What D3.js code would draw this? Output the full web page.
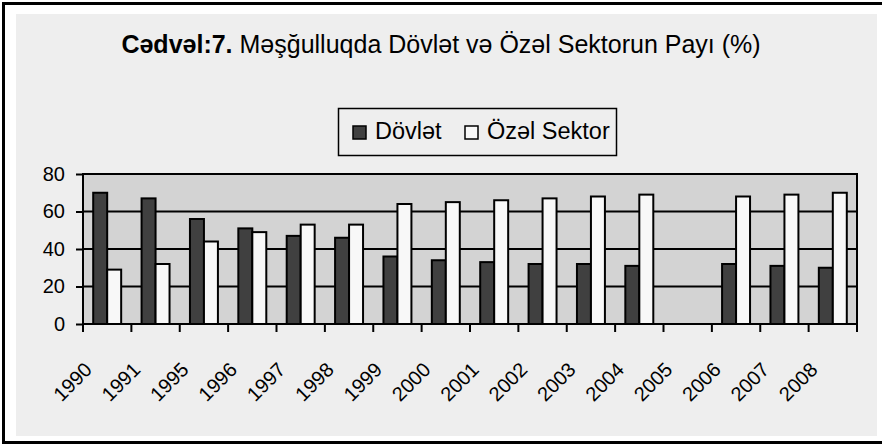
<!DOCTYPE html>
<html>
<head>
<meta charset="utf-8">
<script src="https://d3js.org/d3.v7.min.js"></script>
<style>
  body { margin: 0; background: #fff; }
  svg { display: block; font-family: "Liberation Sans", Arial, sans-serif; }
</style>
</head>
<body>
<div id="chart"></div>
<script>
// chart data
var years = ["1990", "1991", "1995", "1996", "1997", "1998", "1999", "2000",
             "2001", "2002", "2003", "2004", "2005", "2006", "2007", "2008"];
var dovlet = [70, 67, 56, 51, 47, 46, 36, 34, 33, 32, 32, 31, null, 32, 31, 30];
var ozel   = [29, 32, 44, 49, 53, 53, 64, 65, 66, 67, 68, 69, null, 68, 69, 70];
var seriesNames = ["Dövlət", "Özəl Sektor"];
var yTicks = [0, 20, 40, 60, 80];

var width = 882, height = 445;
var plot = { left: 83, right: 857, top: 174, bottom: 324 };
var colors = ["#404040", "#f8f8f8"];

var svg = d3.select("#chart").append("svg")
  .attr("width", width)
  .attr("height", height);

// outer frame + chart background
svg.append("rect")
  .attr("x", 3.5).attr("y", 3.5)
  .attr("width", width + 10).attr("height", 439)
  .attr("fill", "#fff")
  .attr("stroke", "#000")
  .attr("stroke-width", 3);

svg.append("rect")
  .attr("x", 16).attr("y", 14)
  .attr("width", 861).attr("height", 422)
  .attr("fill", "#eeeeee");

// title
var title = svg.append("text")
  .attr("x", 441).attr("y", 53)
  .attr("text-anchor", "middle")
  .attr("font-size", 25)
  .attr("fill", "#000");
title.append("tspan").attr("font-weight", "bold").text("Cədvəl:7.");
title.append("tspan").text(" Məşğulluqda Dövlət və Özəl Sektorun Payı (%)");

// scales
var x0 = d3.scaleBand().domain(years).range([plot.left, plot.right]);
var x1 = d3.scaleBand().domain([0, 1]).range([0, x0.bandwidth()]).paddingOuter(0.73);
var y = d3.scaleLinear().domain([0, 80]).range([plot.bottom, plot.top]);

// plot area
svg.append("rect")
  .attr("x", plot.left).attr("y", plot.top)
  .attr("width", plot.right - plot.left).attr("height", plot.bottom - plot.top)
  .attr("fill", "#d3d3d3")
  .attr("stroke", "#000")
  .attr("stroke-width", 2);

// gridlines
svg.append("g")
  .selectAll("line")
  .data(yTicks.filter(function(d) { return d > 0; }))
  .enter().append("line")
  .attr("x1", plot.left).attr("x2", plot.right)
  .attr("y1", function(d) { return y(d); })
  .attr("y2", function(d) { return y(d); })
  .attr("stroke", "#000")
  .attr("stroke-width", 2);

// bars
var values = [dovlet, ozel];
var groups = svg.append("g")
  .selectAll("g")
  .data(years)
  .enter().append("g")
  .attr("transform", function(d) { return "translate(" + x0(d) + ",0)"; });

groups.selectAll("rect")
  .data(function(d, i) {
    return [0, 1].map(function(s) { return { s: s, v: values[s][i] }; })
      .filter(function(e) { return e.v != null; });
  })
  .enter().append("rect")
  .attr("x", function(d) { return x1(d.s); })
  .attr("y", function(d) { return y(d.v); })
  .attr("width", x1.bandwidth())
  .attr("height", function(d) { return y(0) - y(d.v); })
  .attr("fill", function(d) { return colors[d.s]; })
  .attr("stroke", "#000")
  .attr("stroke-width", 2);

// y axis
var yAxis = svg.append("g")
  .attr("transform", "translate(" + plot.left + ",0)")
  .call(d3.axisLeft(y).tickValues(yTicks).tickSize(7).tickPadding(11));
yAxis.selectAll("line, path").attr("stroke", "#000").attr("stroke-width", 2);
yAxis.select(".domain").attr("d", "M0," + plot.top + "V" + plot.bottom);
yAxis.selectAll("text").attr("font-size", 20).attr("fill", "#000")
  .attr("font-family", "Liberation Sans, Arial, sans-serif");

// x axis: ticks at category boundaries
var xAxis = svg.append("g");
xAxis.append("line")
  .attr("x1", plot.left).attr("x2", plot.right)
  .attr("y1", plot.bottom).attr("y2", plot.bottom)
  .attr("stroke", "#000").attr("stroke-width", 2);
xAxis.selectAll("line.tick")
  .data(years.concat(["end"]))
  .enter().append("line")
  .attr("class", "tick")
  .attr("x1", function(d, i) { return plot.left + i * x0.step(); })
  .attr("x2", function(d, i) { return plot.left + i * x0.step(); })
  .attr("y1", plot.bottom).attr("y2", plot.bottom + 8)
  .attr("stroke", "#000").attr("stroke-width", 2);

xAxis.selectAll("text")
  .data(years)
  .enter().append("text")
  .attr("transform", function(d) {
    var cx = x0(d) + x0.bandwidth() / 2 - 14;
    return "translate(" + cx + ",371) rotate(-45)";
  })
  .attr("text-anchor", "end")
  .attr("font-size", 20)
  .attr("fill", "#000")
  .text(function(d) { return d; });

// legend
var legend = svg.append("g");
legend.append("rect")
  .attr("x", 338.5).attr("y", 108.5)
  .attr("width", 278).attr("height", 47)
  .attr("fill", "#eeeeee")
  .attr("stroke", "#000")
  .attr("stroke-width", 1.5);

var legendX = [353, 465];
seriesNames.forEach(function(name, i) {
  legend.append("rect")
    .attr("x", legendX[i]).attr("y", 126)
    .attr("width", 13).attr("height", 13)
    .attr("fill", colors[i])
    .attr("stroke", "#000")
    .attr("stroke-width", 1.5);
  legend.append("text")
    .attr("x", legendX[i] + 22).attr("y", 139)
    .attr("font-size", 23.5)
    .attr("fill", "#000")
    .text(name);
});
</script>
</body>
</html>
